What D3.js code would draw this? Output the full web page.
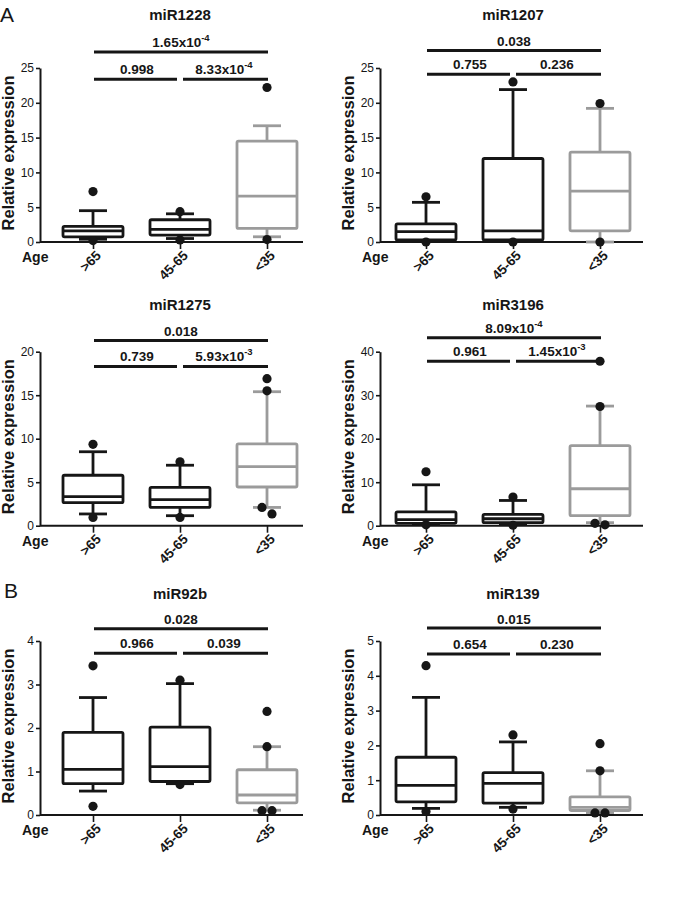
<!DOCTYPE html>
<html>
<head>
<meta charset="utf-8">
<script src="https://cdn.jsdelivr.net/npm/d3@7"></script>
<style>
  html, body { margin: 0; padding: 0; background: #fff; }
  svg { display: block; font-family: "Liberation Sans", Arial, sans-serif; }
</style>
</head>
<body>
<div id="chart"></div>
<script>
// ---------------- DATA ----------------
const panels = ["miR1228", "miR1207", "miR1275", "miR3196", "miR92b", "miR139"];
const groups = [">65", "45-65", "<35"];
const yMax  = [25, 25, 20, 40, 4, 5];
const yStep = [5, 5, 5, 10, 1, 1];

// box-plot statistics per panel, per group [>65, 45-65, <35]
const whiskerLow = [
  [0.4, 0.5, 0.75], [0.1, 0.1, 0.0], [1.35, 1.15, 2.1],
  [0.4, 0.3, 0.7], [0.55, 0.72, 0.11], [0.19, 0.22, 0.07]
];
const q1 = [
  [0.75, 1.0, 1.95], [0.3, 0.3, 1.6], [2.65, 2.1, 4.45],
  [0.55, 0.7, 2.3], [0.72, 0.77, 0.28], [0.38, 0.34, 0.13]
];
const median = [
  [1.6, 1.8, 6.6], [1.5, 1.6, 7.3], [3.35, 3.0, 6.8],
  [1.4, 1.6, 8.5], [1.05, 1.11, 0.46], [0.85, 0.91, 0.22]
];
const q3 = [
  [2.25, 3.2, 14.5], [2.6, 12.0, 12.9], [5.8, 4.4, 9.4],
  [3.2, 2.6, 18.4], [1.9, 2.02, 1.04], [1.66, 1.22, 0.52]
];
const whiskerHigh = [
  [4.5, 4.05, 16.7], [5.7, 21.9, 19.2], [8.5, 6.95, 15.4],
  [9.4, 5.8, 27.5], [2.7, 3.02, 1.57], [3.38, 2.1, 1.27]
];
const outliers = [
  [[7.25, 0.2], [4.35, 0.3], [22.2, 0.35]],
  [[6.5, 0.0], [23.0, 0.0], [19.9, 0.0]],
  [[9.35, 0.95], [7.35, 0.95], [16.9, 15.5, 2.1, 1.35]],
  [[12.4, 0.2], [6.6, 0.1], [37.8, 27.4, 0.55, 0.2]],
  [[3.43, 0.2], [3.1, 0.7], [2.38, 1.57, 0.1, 0.1]],
  [[4.29, 0.1], [2.3, 0.17], [2.05, 1.27, 0.06, 0.06]]
];

// p-values: [mantissa, exponent or null]
const pLeft  = [["0.998", null], ["0.755", null], ["0.739", null], ["0.961", null], ["0.966", null], ["0.654", null]];
const pRight = [["8.33x10", "-4"], ["0.236", null], ["5.93x10", "-3"], ["1.45x10", "-3"], ["0.039", null], ["0.230", null]];
const pTop   = [["1.65x10", "-4"], ["0.038", null], ["0.018", null], ["8.09x10", "-4"], ["0.028", null], ["0.015", null]];

const sectionLabels = ["A", "B"];

// ---------------- LAYOUT ----------------
const W = 685, H = 910;
const colX = [40, 380];
const catOff = [[53, 227], [46, 220]];
const axisEnd = [303, 643];
const rowY0 = [242, 525.7, 815];
const plotH = 174;
const titleY = [20, 310, 599];
// heights (data units) of the lower and upper significance bars
const sigLevels = [[23.4, 27.3], [24.1, 27.5], [18.3, 21.3], [37.8, 43.2], [3.72, 4.28], [4.63, 5.37]];

const BLACK = "#161616", GRAY = "#9b9b9b";
const boxW = 60, capW = 28, dotR = 4.6;

const svg = d3.select("#chart").append("svg")
  .attr("width", W).attr("height", H)
  .attr("viewBox", `0 0 ${W} ${H}`);

svg.append("text").attr("x", 0).attr("y", 22)
  .attr("font-size", 21).attr("fill", BLACK).text(sectionLabels[0]);
svg.append("text").attr("x", 4).attr("y", 598)
  .attr("font-size", 21).attr("fill", BLACK).text(sectionLabels[1]);

function pText(sel, p, x, y) {
  const t = sel.append("text")
    .attr("x", x).attr("y", y)
    .attr("text-anchor", "middle")
    .attr("font-size", 13.5).attr("font-weight", "bold").attr("fill", BLACK);
  t.append("tspan").text(p[0]);
  if (p[1]) {
    t.append("tspan").attr("dy", -6).attr("font-size", 9.5).text(p[1]);
  }
}

panels.forEach((name, i) => {
  const col = i % 2, row = Math.floor(i / 2);
  const ax = colX[col], y0 = rowY0[row];
  const g = svg.append("g");

  const y = d3.scaleLinear().domain([0, yMax[i]]).range([y0, y0 - plotH]);
  const x = d3.scalePoint().domain(groups).range([ax + catOff[col][0], ax + catOff[col][1]]);

  // title
  g.append("text").attr("x", x(groups[1])).attr("y", titleY[row])
    .attr("text-anchor", "middle").attr("font-size", 15).attr("font-weight", "bold")
    .attr("fill", BLACK).text(name);

  // y axis
  const ticks = d3.range(0, yMax[i] + 1e-9, yStep[i]);
  const yAx = g.append("g").attr("transform", `translate(${ax},0)`)
    .call(d3.axisLeft(y).tickValues(ticks).tickSize(4).tickSizeOuter(0).tickPadding(2)
      .tickFormat(d3.format("d")));
  yAx.select(".domain").attr("stroke", BLACK).attr("stroke-width", 2);
  yAx.selectAll(".tick line").attr("stroke", BLACK).attr("stroke-width", 1.6);
  yAx.selectAll(".tick text").attr("font-size", 12).attr("fill", BLACK)
    .attr("font-family", "Liberation Sans, Arial, sans-serif");

  // y label
  g.append("text")
    .attr("transform", `translate(${ax - 26},${y0 - plotH / 2 - 2}) rotate(-90)`)
    .attr("text-anchor", "middle").attr("font-size", 16.5).attr("font-weight", "bold")
    .attr("fill", BLACK).text("Relative expression");

  // x axis
  g.append("line").attr("x1", ax).attr("x2", axisEnd[col])
    .attr("y1", y0).attr("y2", y0).attr("stroke", BLACK).attr("stroke-width", 2);
  const xAx = g.append("g").attr("transform", `translate(0,${y0})`)
    .call(d3.axisBottom(x).tickSize(7).tickSizeOuter(0).tickPadding(0));
  xAx.select(".domain").remove();
  xAx.selectAll(".tick line").attr("stroke", BLACK).attr("stroke-width", 1.6);
  xAx.selectAll(".tick text")
    .attr("font-size", 13.5).attr("font-weight", "bold").attr("fill", BLACK)
    .attr("font-family", "Liberation Sans, Arial, sans-serif")
    .attr("text-anchor", "end").attr("dy", "0.35em")
    .attr("transform", "translate(5,11) rotate(-45)")
    .attr("y", 0);

  g.append("text").attr("x", ax - 18).attr("y", y0 + 20)
    .attr("font-size", 14).attr("font-weight", "bold").attr("fill", BLACK).text("Age");

  // boxes
  groups.forEach((grp, k) => {
    const cx = x(grp);
    const c = k === 2 ? GRAY : BLACK;
    const bg = g.append("g").attr("stroke", c).attr("stroke-width", 2.8).attr("fill", "none");
    bg.append("line").attr("x1", cx).attr("x2", cx)
      .attr("y1", y(q3[i][k])).attr("y2", y(whiskerHigh[i][k]));
    bg.append("line").attr("x1", cx).attr("x2", cx)
      .attr("y1", y(q1[i][k])).attr("y2", y(whiskerLow[i][k]));
    bg.append("line").attr("x1", cx - capW / 2).attr("x2", cx + capW / 2)
      .attr("y1", y(whiskerHigh[i][k])).attr("y2", y(whiskerHigh[i][k]));
    bg.append("line").attr("x1", cx - capW / 2).attr("x2", cx + capW / 2)
      .attr("y1", y(whiskerLow[i][k])).attr("y2", y(whiskerLow[i][k]));
    bg.append("rect").attr("x", cx - boxW / 2).attr("width", boxW)
      .attr("y", y(q3[i][k])).attr("height", y(q1[i][k]) - y(q3[i][k]))
      .attr("fill", "#fff").attr("rx", 1.5);
    bg.append("line").attr("x1", cx - boxW / 2).attr("x2", cx + boxW / 2)
      .attr("y1", y(median[i][k])).attr("y2", y(median[i][k]));

    // outliers with dodge when overlapping
    const pts = outliers[i][k].map(v => ({ v, py: y(v) })).sort((a, b) => a.py - b.py);
    const clusters = [];
    pts.forEach(p => {
      const last = clusters[clusters.length - 1];
      if (last && Math.abs(p.py - last[last.length - 1].py) < dotR * 2) last.push(p);
      else clusters.push([p]);
    });
    clusters.forEach(cl => {
      cl.forEach((p, j) => {
        const off = (j - (cl.length - 1) / 2) * 10;
        g.append("circle").attr("cx", cx + off).attr("cy", p.py).attr("r", dotR).attr("fill", BLACK);
      });
    });
  });

  // significance bars
  const [lowV, topV] = sigLevels[i];
  const xa = x(groups[0]) + 1, xb = x(groups[1]), xc = x(groups[2]) + 1;
  const sb = g.append("g").attr("stroke", BLACK).attr("stroke-width", 3);
  sb.append("line").attr("x1", xa).attr("x2", xc).attr("y1", y(topV)).attr("y2", y(topV));
  sb.append("line").attr("x1", xa).attr("x2", xb - 3).attr("y1", y(lowV)).attr("y2", y(lowV));
  sb.append("line").attr("x1", xb + 3).attr("x2", xc).attr("y1", y(lowV)).attr("y2", y(lowV));
  pText(g, pTop[i], (xa + xc) / 2, y(topV) - 4.5);
  pText(g, pLeft[i], (xa + xb) / 2, y(lowV) - 5);
  pText(g, pRight[i], (xb + xc) / 2, y(lowV) - 5);
});
</script>
</body>
</html>
